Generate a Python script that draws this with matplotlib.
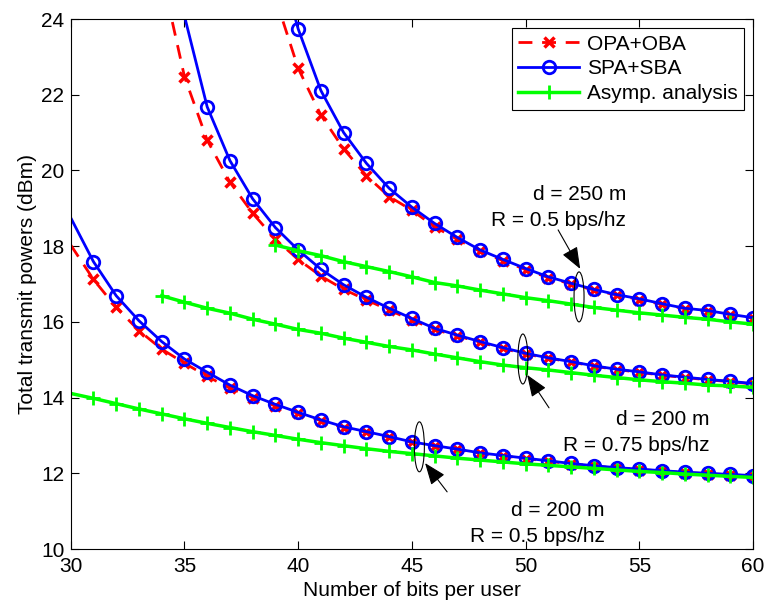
import numpy as np
import matplotlib.pyplot as plt
from matplotlib.patches import Ellipse

plt.rcParams['font.family'] = ['Liberation Sans', 'DejaVu Sans']
plt.rcParams['font.size'] = 15

# d = 200 m, R = 0.5 bps/hz
x_a = np.arange(30, 61)
opa_a = [18.03, 17.12, 16.38, 15.77, 15.28, 14.91, 14.56, 14.25, 14.00, 13.78,
         13.58, 13.39, 13.21, 13.08, 12.95, 12.82, 12.72, 12.63, 12.53, 12.46,
         12.39, 12.32, 12.25, 12.19, 12.14, 12.10, 12.06, 12.02, 11.99, 11.96, 11.93]
spa_a = [18.75, 17.59, 16.69, 16.03, 15.48, 15.02, 14.67, 14.33, 14.05, 13.82,
         13.61, 13.41, 13.23, 13.10, 12.97, 12.83, 12.73, 12.64, 12.54, 12.47,
         12.40, 12.33, 12.26, 12.20, 12.15, 12.11, 12.07, 12.03, 12.00, 11.97, 11.94]
asy_a = [14.11, 13.98, 13.84, 13.70, 13.57, 13.44, 13.32, 13.21, 13.10, 13.00,
         12.90, 12.81, 12.73, 12.65, 12.58, 12.52, 12.46, 12.40, 12.35, 12.30,
         12.25, 12.21, 12.17, 12.13, 12.09, 12.05, 12.02, 11.98, 11.95, 11.92, 11.89]

# d = 200 m, R = 0.75 bps/hz
x_opa_b = np.arange(34, 61)
opa_b = [25.19, 22.48, 20.80, 19.69, 18.87, 18.18, 17.65, 17.21, 16.86, 16.58,
         16.31, 16.05, 15.80, 15.63, 15.46, 15.30, 15.15, 15.04, 14.94, 14.83,
         14.74, 14.67, 14.59, 14.53, 14.47, 14.42, 14.36]
x_spa_b = np.arange(35, 61)
spa_b = [24.08, 21.68, 20.26, 19.25, 18.49, 17.90, 17.39, 16.98, 16.65, 16.36,
         16.09, 15.83, 15.65, 15.48, 15.32, 15.17, 15.05, 14.95, 14.84, 14.75,
         14.68, 14.60, 14.54, 14.48, 14.43, 14.37]
x_asy_b = np.arange(34, 61)
asy_b = [16.69, 16.52, 16.36, 16.23, 16.07, 15.94, 15.80, 15.70, 15.57, 15.46,
         15.35, 15.26, 15.15, 15.05, 14.95, 14.86, 14.79, 14.73, 14.66, 14.59,
         14.53, 14.47, 14.42, 14.38, 14.33, 14.31, 14.27]

# d = 250 m, R = 0.5 bps/hz
x_c = np.arange(39, 61)
opa_c = [24.56, 22.70, 21.46, 20.57, 19.86, 19.31, 18.95, 18.51, 18.18, 17.86,
         17.62, 17.38, 17.17, 17.00, 16.84, 16.71, 16.59, 16.46, 16.35, 16.29,
         16.19, 16.10]
spa_c = [25.90, 23.74, 22.11, 21.00, 20.19, 19.53, 19.03, 18.60, 18.23, 17.90,
         17.65, 17.41, 17.19, 17.02, 16.86, 16.72, 16.61, 16.48, 16.36, 16.30,
         16.20, 16.11]
asy_c = [18.03, 17.88, 17.75, 17.59, 17.46, 17.33, 17.19, 17.04, 16.95, 16.84,
         16.74, 16.64, 16.56, 16.47, 16.38, 16.31, 16.24, 16.18, 16.12, 16.07,
         16.00, 15.94]

fig = plt.figure(figsize=(7.68, 6.08), dpi=100)
ax = fig.add_axes([0.0921, 0.0970, 0.8884, 0.8717])

red = dict(color='r', ls='--', lw=2, marker='x', ms=7, mew=2.5, dashes=(5, 3.5))
blue = dict(color='b', ls='-', lw=2, marker='o', ms=9, mew=2, mfc='none')
green = dict(color=(0, 1, 0), ls='-', lw=2.5, marker='+', ms=10, mew=2)

ax.plot(x_a, opa_a, markevery=slice(1, None), label='OPA+OBA', **red)
ax.plot(x_opa_b, opa_b, markevery=slice(1, None), **red)
ax.plot(x_c, opa_c, markevery=slice(1, None), **red)

ax.plot(x_a, spa_a, markevery=slice(1, None), label='SPA+SBA', **blue)
ax.plot(x_spa_b, spa_b, markevery=slice(1, None), **blue)
ax.plot(x_c, spa_c, markevery=slice(1, None), **blue)

ax.plot(x_a, asy_a, markevery=slice(1, None), label='Asymp. analysis', **green)
ax.plot(x_asy_b, asy_b, **green)
ax.plot(x_c, asy_c, **green)

# ellipses, arrows and labels
for cx, cy in [(52.35, 16.66), (49.88, 15.02), (45.33, 12.70)]:
    ax.add_patch(Ellipse((cx, cy), 0.44, 1.32, fill=False, ec='k', lw=0.8, zorder=5))

arr = dict(arrowstyle='-|>,head_length=0.9,head_width=0.35', color='k', lw=0.8,
           shrinkA=0, shrinkB=0)
ax.annotate('', xy=(52.40, 17.40), xytext=(51.43, 18.43), arrowprops=arr)
ax.annotate('', xy=(50.07, 14.60), xytext=(51.03, 13.73), arrowprops=arr)
ax.annotate('', xy=(45.58, 12.27), xytext=(46.55, 11.51), arrowprops=arr)

ax.text(54.42, 19.02, 'd = 250 m\nR = 0.5 bps/hz', ha='right', va='center',
        multialignment='right', linespacing=1.5)
ax.text(58.07, 13.08, 'd = 200 m\nR = 0.75 bps/hz', ha='right', va='center',
        multialignment='right', linespacing=1.5)
ax.text(53.47, 10.68, 'd = 200 m\nR = 0.5 bps/hz', ha='right', va='center',
        multialignment='right', linespacing=1.5)

ax.set_xlim(30, 60)
ax.set_ylim(10, 24)
ax.set_xticks(np.arange(30, 61, 5))
ax.set_yticks(np.arange(10, 25, 2))
ax.tick_params(direction='in', top=True, right=True, length=6, width=0.8)
ax.tick_params(axis='x', pad=6)
ax.tick_params(axis='y', pad=4.5)
for s in ax.spines.values():
    s.set_linewidth(0.8)
ax.set_xlabel('Number of bits per user', labelpad=3)
ax.set_ylabel('Total transmit powers (dBm)', labelpad=3)

leg = ax.legend(loc='upper right', handlelength=2.9, handletextpad=0.38,
                labelspacing=0.28, borderpad=0.3, borderaxespad=0.45,
                fancybox=False, framealpha=1)
leg.get_frame().set_edgecolor('k')
leg.get_frame().set_linewidth(0.8)

fig.savefig('out.png', dpi=100)
